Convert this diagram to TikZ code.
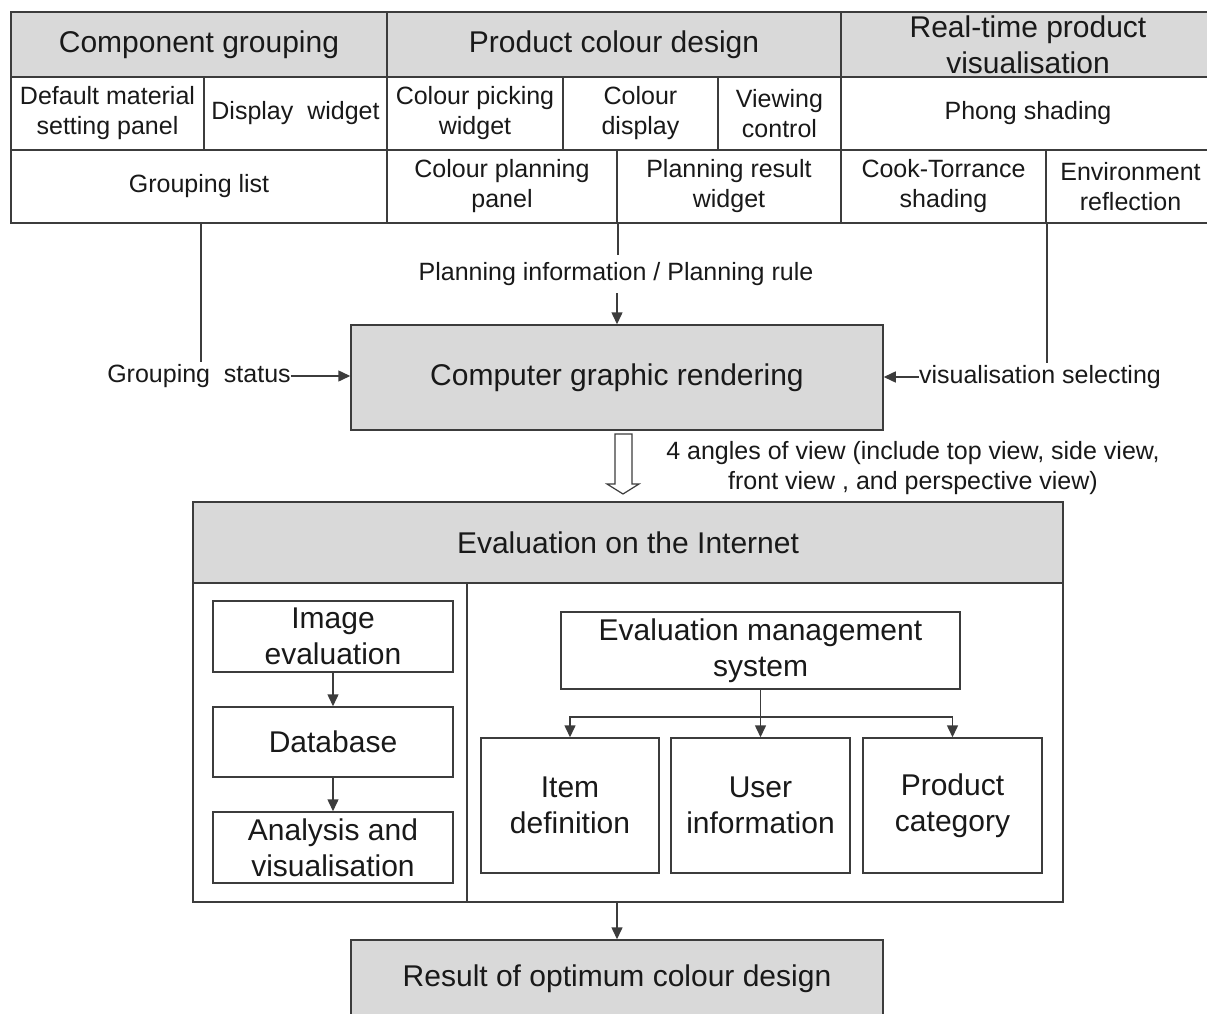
\documentclass[tikz,border=0pt]{standalone}
\usepackage{fontspec}
\setmainfont{Liberation Sans}
\usetikzlibrary{arrows.meta,calc}
\definecolor{hdr}{RGB}{217,217,217}
\definecolor{ln}{RGB}{60,60,60}
\definecolor{tx}{RGB}{25,25,25}
\newcommand\bigtxt{\fontsize{30}{36}\selectfont}
\newcommand\smtxt{\fontsize{25}{30}\selectfont}
\newcommand\mybox[7]{%
  \pgfmathsetmacro\myCX{(#3+#5)/2}%
  \pgfmathsetmacro\myCY{(#4+#6)/2}%
  \pgfmathsetmacro\myW{#5-#3}%
  \pgfmathsetmacro\myH{#6-#4}%
  \node[#2,minimum width=\myW pt,minimum height=\myH pt] (#1) at (\myCX,\myCY) {#7};}
\begin{document}
\begin{tikzpicture}[x=1pt,y=-1pt,
  cellbox/.style={draw=ln,line width=1.5pt,inner sep=0pt,align=center,text=tx,font=\smtxt},
  headbox/.style={cellbox,fill=hdr,font=\bigtxt},
  bigbox/.style={cellbox,font=\bigtxt},
  lbl/.style={inner sep=0pt,text=tx,font=\smtxt,align=center},
  conn/.style={draw=ln,line width=1.5pt},
  arr/.style={conn,-{Triangle[length=12pt,width=11pt]}}]
\useasboundingbox (0,0) rectangle (1207,1014);
\clip (0,0) rectangle (1207,1014);
\fill[white] (0,0) rectangle (1207,1014);
% top table
\mybox{hcg}{headbox}{11}{12}{387}{77}{Component grouping}
\mybox{hpc}{headbox}{387}{12}{841}{77}{Product colour design}
\mybox{hrt}{headbox}{841}{12}{1215}{77}{Real-time product\\visualisation}
\mybox{c11}{cellbox}{11}{77}{204}{150}{Default material\\setting panel}
\mybox{c12}{cellbox}{204}{77}{387}{150}{Display~~widget}
\mybox{c21}{cellbox}{387}{77}{563}{150}{Colour picking\\widget}
\mybox{c22}{cellbox}{563}{77}{718}{150}{Colour\\display}
\mybox{c23}{cellbox}{718}{77}{841}{150}{Viewing\\control}
\mybox{c31}{cellbox}{841}{77}{1215}{150}{Phong shading}
\mybox{g1}{cellbox}{11}{150}{387}{223}{Grouping list}
\mybox{g21}{cellbox}{387}{150}{617}{223}{Colour planning\\panel}
\mybox{g22}{cellbox}{617}{150}{841}{223}{Planning result\\widget}
\mybox{g31}{cellbox}{841}{150}{1046}{223}{Cook-Torrance\\shading}
\mybox{g32}{cellbox}{1046}{150}{1215}{223}{Environment\\reflection}
% rendering box
\mybox{cgr}{headbox}{351}{325}{883}{430}{Computer graphic rendering}
% labels
\node[lbl] (gs) at (199,376) {Grouping~~status};
\node[lbl] (vs) at (1040,377) {visualisation selecting};
\node[lbl,minimum height=38pt] (pi) at (616,274) {Planning information / Planning rule};
\node[lbl] (ang) at (913,468) {4 angles of view (include top view, side view,\\front view , and perspective view)};
\coordinate (gsend) at (201,362);
\coordinate (vsend) at (1046,363);
\draw[conn] (g1.south -| gsend) -- (gsend);
\draw[arr] (gs.east) -- (gs.east -| cgr.west);
\draw[conn] (g31.south east) -- (g31.south east |- vsend);
\draw[arr] (vs.west) -- (vs.west -| cgr.east);
\draw[conn] (g21.south east) -- (pi.north -| g21.south east);
\draw[arr] (pi.south -| cgr.north) -- (cgr.north);
% hollow arrow
\draw[draw=ln,line width=1.2pt,fill=white] (615,434) -- (632,434) -- (632,484) -- (639,484) -- (623,494) -- (607,484) -- (615,484) -- cycle;
% evaluation box
\mybox{ev}{cellbox}{193}{502}{1063}{902}{}
\mybox{eh}{headbox}{193}{502}{1063}{583}{Evaluation on the Internet}
\mybox{el}{cellbox}{193}{583}{467}{902}{}
\mybox{er}{cellbox}{467}{583}{1063}{902}{}
\mybox{ie}{bigbox}{213}{601}{453}{672}{Image\\evaluation}
\mybox{db}{bigbox}{213}{707}{453}{777}{Database}
\mybox{av}{bigbox}{213}{812}{453}{883}{Analysis and\\visualisation}
\draw[arr] (ie.south) -- (db.north);
\draw[arr] (db.south) -- (av.north);
\mybox{ems}{bigbox}{561}{612}{960}{689}{Evaluation management\\system}
\mybox{it}{bigbox}{481}{738}{659}{873}{Item\\definition}
\mybox{ui}{bigbox}{671}{738}{850}{873}{User\\information}
\mybox{pc}{bigbox}{863}{738}{1042}{873}{Product\\category}
\draw[arr] (ems.south) -- (ui.north);
\draw[arr] (ems.south) -- ++(0,27) -| (it.north);
\draw[arr] (ems.south) -- ++(0,27) -| (pc.north);
% result
\mybox{res}{headbox}{351}{940}{883}{1018}{Result of optimum colour design}
\draw[arr] (res.north |- ev.south) -- (res.north);
\end{tikzpicture}
\end{document}
